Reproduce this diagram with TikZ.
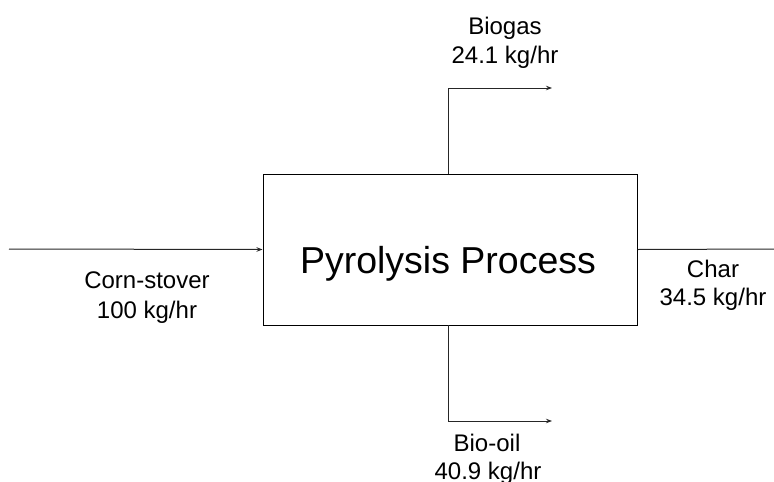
\documentclass[tikz,border=0pt]{standalone}
\usepackage{fontspec}
\setmainfont{Liberation Sans}
\usetikzlibrary{arrows.meta}
\begin{document}
\begin{tikzpicture}[x=1pt,y=-1pt,
  flow/.style={line width=1pt,draw=black!85},
  arr/.style={flow,-{Stealth[length=6pt,width=4.5pt]}},
  lbl/.style={anchor=base,inner sep=0pt,font=\fontsize{24}{29}\selectfont},
  proc/.style={draw=black,line width=1pt,minimum width=374pt,minimum height=151pt,inner sep=0pt}]
\useasboundingbox (0,0) rectangle (774,482);
\node[proc] (box) at (450,249.5) {};
\node[anchor=base,inner sep=0pt,font=\fontsize{37.5}{40}\selectfont] (title) at (448,273) {Pyrolysis Process};
% input
\coordinate (in) at (9,249);
\draw[arr] (in) -- (box.west);
\node[lbl] (cs1) at (147,288) {Corn-stover};
\node[lbl] (cs2) at (147,318) {100 kg/hr};
% char
\coordinate (charend) at (774,249);
\draw[flow] (box.east) -- (charend);
\node[lbl] (ch1) at (713,277) {Char};
\node[lbl] (ch2) at (713,305) {34.5 kg/hr};
% biogas
\coordinate (bgtop) at (448,174);
\coordinate (bgend) at (552,88);
\draw[arr] (bgtop) |- (bgend);
\node[lbl] (bg1) at (505,34) {Biogas};
\node[lbl] (bg2) at (505,63) {24.1 kg/hr};
% bio-oil
\coordinate (bobot) at (448,325);
\coordinate (boend) at (552,421);
\draw[arr] (bobot) |- (boend);
\node[lbl] (bo1) at (487,451) {Bio-oil};
\node[lbl] (bo2) at (488,479) {40.9 kg/hr};
\end{tikzpicture}
\end{document}
